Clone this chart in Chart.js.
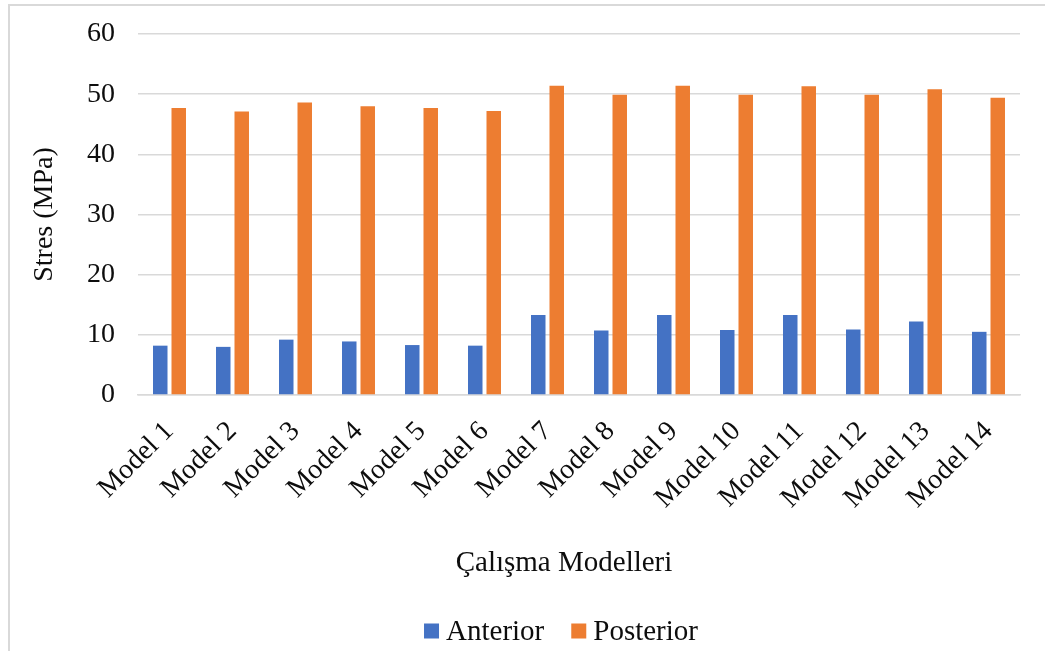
<!DOCTYPE html>
<html>
<head>
<meta charset="utf-8">
<script src="https://cdn.jsdelivr.net/npm/chart.js@4.4.1/dist/chart.umd.min.js"></script>
<style>
  html, body { margin: 0; padding: 0; background: #fff; }
  #wrap { position: relative; width: 1045px; height: 651px; overflow: hidden; }
  #frame { position: absolute; left: 8px; top: 4px; right: -10px; bottom: -10px;
           border-top: 2px solid #D9D9D9; border-left: 2px solid #D9D9D9; }
  #c { position: absolute; left: 0; top: 0; }
</style>
</head>
<body>
<div id="wrap">
  <div id="frame"></div>
  <canvas id="c" width="1045" height="651"></canvas>
</div>
<script>
const categories = ['Model 1', 'Model 2', 'Model 3', 'Model 4', 'Model 5', 'Model 6', 'Model 7',
                    'Model 8', 'Model 9', 'Model 10', 'Model 11', 'Model 12', 'Model 13', 'Model 14'];
const anterior  = [8.2, 8.0, 9.2, 8.9, 8.3, 8.2, 13.3, 10.7, 13.3, 10.8, 13.3, 10.9, 12.2, 10.5];
const posterior = [47.7, 47.1, 48.6, 48.0, 47.7, 47.2, 51.4, 49.9, 51.4, 49.9, 51.3, 49.9, 50.8, 49.4];
const seriesNames = ['Anterior', 'Posterior'];
const yTicks = { min: 0, max: 60, step: 10 };
const xAxisTitle = 'Çalışma Modelleri';
const yAxisTitle = 'Stres (MPa)';

const FONT = 'Liberation Serif, "Times New Roman", serif';
const TEXT = '#0d0d0d';
const GRID = '#D9D9D9';

// Axis captions and a compact bottom legend, placed relative to the plot area
const captionsAndLegend = {
  id: 'captionsAndLegend',
  afterDraw(chart) {
    const { ctx, chartArea } = chart;
    ctx.save();
    ctx.fillStyle = TEXT;
    ctx.textBaseline = 'middle';

    // x-axis caption
    ctx.font = '29px ' + FONT;
    ctx.textAlign = 'center';
    ctx.fillText(xAxisTitle, chartArea.left + 426, chartArea.bottom + 168);

    // legend: square swatch, short gap, series name
    const box = 15, gapText = 7, gapItem = 27;
    ctx.textAlign = 'left';
    const items = chart.data.datasets.map(ds => ({
      text: ds.label, color: ds.backgroundColor, w: ctx.measureText(ds.label).width
    }));
    const total = items.reduce((s, it) => s + box + gapText + it.w, 0) + gapItem * (items.length - 1);
    let x = chartArea.left + 423 - total / 2;
    const cy = chartArea.bottom + 236;
    items.forEach(it => {
      ctx.fillStyle = it.color;
      ctx.fillRect(x, cy - box / 2, box, box);
      ctx.fillStyle = TEXT;
      ctx.fillText(it.text, x + box + gapText, cy + 1);
      x += box + gapText + it.w + gapItem;
    });

    // y-axis caption
    ctx.font = '28px ' + FONT;
    ctx.textAlign = 'center';
    ctx.translate(45, (chartArea.top + chartArea.bottom) / 2);
    ctx.rotate(-Math.PI / 2);
    ctx.fillText(yAxisTitle, 0, 0);
    ctx.restore();
  }
};

new Chart(document.getElementById('c'), {
  type: 'bar',
  data: {
    labels: categories,
    datasets: [
      { label: seriesNames[0], data: anterior, backgroundColor: '#4472C4' },
      { label: seriesNames[1], data: posterior, backgroundColor: '#ED7D31' }
    ]
  },
  options: {
    responsive: false,
    animation: false,
    devicePixelRatio: 1,
    categoryPercentage: 0.587,
    barPercentage: 0.784,
    layout: { padding: { left: 8, right: 25, top: 34, bottom: 0 } },
    plugins: {
      tooltip: { enabled: false },
      legend: { display: false }
    },
    scales: {
      x: {
        grid: { display: false, drawTicks: false },
        border: { display: true, color: GRID, width: 1.5 },
        ticks: {
          color: TEXT,
          font: { family: FONT, size: 28 },
          minRotation: 45,
          maxRotation: 45,
          autoSkip: false,
          padding: 20
        },
        afterFit(scale) {
          scale.height = 256;
          scale.paddingLeft = 0;
          scale.paddingRight = 0;
        }
      },
      y: {
        min: yTicks.min,
        max: yTicks.max,
        grid: { color: GRID, lineWidth: 1.5, drawTicks: false },
        border: { display: false },
        ticks: {
          stepSize: yTicks.step,
          color: TEXT,
          font: { family: FONT, size: 28 },
          padding: 23
        },
        afterFit(scale) {
          scale.width = 130;
          scale.paddingTop = 0;
          scale.paddingBottom = 0;
        }
      }
    }
  },
  plugins: [captionsAndLegend]
});
</script>
</body>
</html>
